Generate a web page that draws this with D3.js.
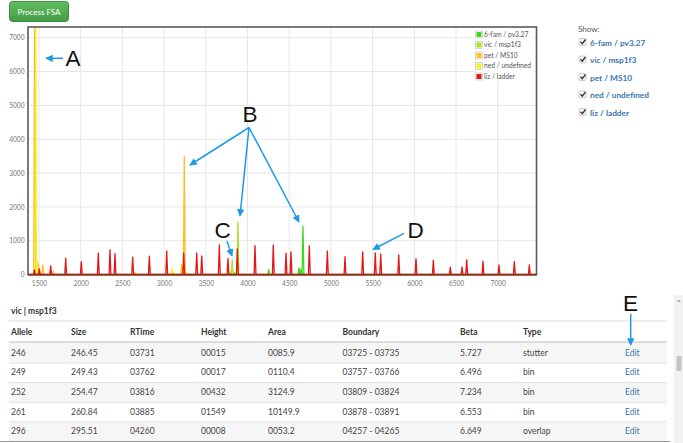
<!DOCTYPE html>
<html><head><meta charset="utf-8">
<script src="https://cdn.jsdelivr.net/npm/d3@7"></script>
<style>
html,body{margin:0;padding:0;background:#fff;}
svg{display:block;}
</style></head>
<body>
<svg id="c" width="683" height="443"></svg>
<script>
// ---------------- DATA ----------------
const dyeNames = ["6-fam / pv3.27", "vic / msp1f3", "pet / MS10", "ned / undefined", "liz / ladder"];
// peaks: [retention time, height]
const famPeaks = [[4255,150],[4617,197],[4640,150],[4665,1430]];
const vicPeaks = [[3731,15],[3762,17],[3798,90],[3816,432],[3842,70],[3885,1549],[4260,8]];
const petPeaks = [[1448,7600],[1490,330],[1545,280],[1670,100],[2650,60],[3211,300],[3242,3490]];
const nedPeaks = [[1462,7600],[1478,420],[3091,200],[3111,100],[3262,90]];
const lizPeaks = [[1444,140],[1504,170],[1640,256],[1820,483],[2007,385],[2211,631],[2351,730],[2411,621],
  [2623,513],[2823,542],[3031,700],[3235,641],[3391,641],[3451,556],[3662,877],[3766,478],[3878,759],
  [4090,858],[4309,878],[4462,637],[4521,670],[4741,848],[4957,700],[5169,528],[5381,670],[5532,641],
  [5597,611],[5813,582],[6020,473],[6228,424],[6432,222],[6572,224],[6628,434],[6823,395],[7015,290],
  [7199,380],[7379,290]];
const xTicks = [1500,2000,2500,3000,3500,4000,4500,5000,5500,6000,6500,7000];
const yTicks = [0,1000,2000,3000,4000,5000,6000,7000];

const tableTitle = "vic | msp1f3";
const columns = ["Allele","Size","RTime","Height","Area","Boundary","Beta","Type",""];
const allele = ["246","249","252","261","296"];
const size = ["246.45","249.43","254.47","260.84","295.51"];
const rtime = ["03731","03762","03816","03885","04260"];
const height = ["00015","00017","00432","01549","00008"];
const area = ["0085.9","0110.4","3124.9","10149.9","0053.2"];
const boundary = ["03725 - 03735","03757 - 03766","03809 - 03824","03878 - 03891","04257 - 04265"];
const beta = ["5.727","6.496","7.234","6.553","6.649"];
const ptype = ["stutter","bin","bin","bin","overlap"];

// ---------------- STYLE ----------------
const dyeColors = ["#3fd81c", "#a8e324", "#ffbd1f", "#f0f02a", "#e01818"];
const seriesPeaks = [famPeaks, vicPeaks, petPeaks, nedPeaks, lizPeaks];
const svg = d3.select("#c");
const font = "Lato, 'Open Sans', sans-serif";
const P = {l:28, t:27, r:536.5, b:274.6};
const xDomain = [1368, 7465], yDomain = [0, 7316];

const x = d3.scaleLinear().domain(xDomain).range([P.l, P.r]);
const y = d3.scaleLinear().domain(yDomain).range([P.b, P.t]);

// Button
const btnG = svg.append("g");
const grad = svg.append("defs").append("linearGradient").attr("id","bg").attr("x1",0).attr("y1",0).attr("x2",0).attr("y2",1);
grad.append("stop").attr("offset","0").attr("stop-color","#62bd62");
grad.append("stop").attr("offset","1").attr("stop-color","#449d44");
btnG.append("rect").attr("x",9.5).attr("y",1.5).attr("width",59).attr("height",20).attr("rx",3)
  .attr("fill","url(#bg)").attr("stroke","#3e8f3e");
btnG.append("text").attr("x",39).attr("y",14.8).attr("text-anchor","middle").attr("fill","#fff")
  .attr("font-family",font).attr("font-size",8).text("Process FSA");

// grid
const grid = svg.append("g");
grid.selectAll("line.v").data(xTicks).join("line").attr("class","v")
  .attr("x1",d=>x(d)).attr("x2",d=>x(d)).attr("y1",P.t).attr("y2",P.b)
  .attr("stroke","#e6e6e6").attr("stroke-width",1);
grid.selectAll("line.h").data(yTicks).join("line").attr("class","h")
  .attr("x1",P.l).attr("x2",P.r).attr("y1",d=>y(d)).attr("y2",d=>y(d))
  .attr("stroke","#e6e6e6").attr("stroke-width",1);

// tick labels via axes
const xAxis = d3.axisBottom(x).tickValues(xTicks).tickSize(0).tickPadding(5).tickFormat(d3.format("d"));
const yAxis = d3.axisLeft(y).tickValues(yTicks).tickSize(0).tickPadding(3).tickFormat(d3.format("d"));
const gx = svg.append("g").attr("transform",`translate(0,${P.b})`).call(xAxis);
const gy = svg.append("g").attr("transform",`translate(${P.l-0.5},0)`).call(yAxis);
[gx,gy].forEach(g=>{
  g.select(".domain").remove();
  g.selectAll("text").attr("fill","#777").attr("font-family",font).attr("font-size",6.6);
});
gx.selectAll("text").attr("dy","0.9em");

// clip
svg.select("defs").append("clipPath").attr("id","pc").append("rect")
  .attr("x",P.l).attr("y",P.t).attr("width",P.r-P.l).attr("height",P.b-P.t+1);

// series
const halfW = 11;
const line = d3.line().x(d=>x(d[0])).y(d=>y(d[1]));
const seriesG = svg.append("g").attr("clip-path","url(#pc)");
seriesPeaks.forEach((pk,i)=>{
  const pts = [[xDomain[0],0]];
  pk.slice().sort((a,b)=>a[0]-b[0]).forEach(p=>{
    pts.push([p[0]-halfW,0],[p[0],p[1]],[p[0]+halfW,0]);
  });
  pts.push([xDomain[1],0]);
  seriesG.append("path").attr("d",line(pts)).attr("fill","none")
    .attr("stroke",dyeColors[i]).attr("stroke-width",1.3).attr("stroke-linejoin","round")
    .attr("stroke-opacity", i===3?0.85:1);
});

// frame
svg.append("rect").attr("x",P.l).attr("y",P.t).attr("width",P.r-P.l).attr("height",P.b-P.t)
  .attr("fill","none").attr("stroke","#5a5a5a").attr("stroke-width",1.6);
svg.append("line").attr("x1",P.l).attr("x2",P.r).attr("y1",P.b).attr("y2",P.b)
  .attr("stroke","#9a2a1a").attr("stroke-width",1.6);

// legend
const lg = svg.append("g");
lg.append("rect").attr("x",474).attr("y",29).attr("width",60).attr("height",52)
  .attr("fill","#fff").attr("fill-opacity",0.85);
const ly = d3.scalePoint().domain(dyeNames).range([34.5,76.5]);
dyeNames.forEach((n,i)=>{
  lg.append("rect").attr("x",475.5).attr("y",ly(n)-3.5).attr("width",7).attr("height",7)
    .attr("fill","#fff").attr("stroke","#ccc").attr("stroke-width",0.8);
  lg.append("rect").attr("x",476.5).attr("y",ly(n)-2.5).attr("width",5).attr("height",5).attr("fill",dyeColors[i]);
  lg.append("text").attr("x",484).attr("y",ly(n)+2.3).attr("font-family",font).attr("font-size",6.7)
    .attr("fill","#555").text(n);
});

// Show panel
svg.append("text").attr("x",578).attr("y",31.5).attr("font-family",font).attr("font-size",8)
  .attr("fill","#555").text("Show:");
const sy = d3.scalePoint().domain(dyeNames).range([43.5,113.5]);
dyeNames.forEach(n=>{
  const g = svg.append("g");
  g.append("rect").attr("x",579).attr("y",sy(n)-5).attr("width",7).attr("height",7).attr("rx",1)
    .attr("fill","#f4f4f4").attr("stroke","#bbb").attr("stroke-width",0.7);
  g.append("path").attr("d",`M580.5,${sy(n)-1.8} l1.8,2 l3.2,-4.2`).attr("fill","none")
    .attr("stroke","#333").attr("stroke-width",1.3);
  g.append("text").attr("x",590).attr("y",sy(n)+2).attr("font-family",font).attr("font-size",8.3)
    .attr("font-weight","bold").attr("fill","#3a76ad").text(n);
});

// table
const tg = svg.append("g").attr("font-family",font).attr("font-size",8.5);
tg.append("text").attr("x",11).attr("y",314).attr("font-weight","bold").attr("fill","#333").text(tableTitle);
const colX = d3.scaleOrdinal().domain(columns).range([11,71,130,201,268,342.5,460,523,625]);
const rowY = d3.scaleBand().domain(allele).range([343,441]);
// stripes
allele.forEach((a,i)=>{
  if(i%2===0) tg.append("rect").attr("x",9).attr("y",rowY(a)).attr("width",658).attr("height",rowY.bandwidth())
    .attr("fill","#f6f6f6");
});
tg.append("line").attr("x1",9).attr("x2",667).attr("y1",321).attr("y2",321).attr("stroke","#ddd").attr("stroke-width",1.2);
tg.append("line").attr("x1",9).attr("x2",667).attr("y1",342).attr("y2",342).attr("stroke","#ddd").attr("stroke-width",2);
allele.slice(1).forEach(a=>{
  tg.append("line").attr("x1",9).attr("x2",667).attr("y1",rowY(a)+0.5).attr("y2",rowY(a)+0.5).attr("stroke","#e2e2e2");
});
columns.forEach(c=>{
  tg.append("text").attr("x",colX(c)).attr("y",334.5).attr("font-weight","bold").attr("fill","#333").text(c);
});
const cols = [allele,size,rtime,height,area,boundary,beta,ptype];
allele.forEach((a,i)=>{
  cols.forEach((arr,j)=>{
    tg.append("text").attr("x",colX(columns[j])).attr("y",rowY(a)+rowY.bandwidth()/2+3)
      .attr("fill","#444").text(arr[i]);
  });
  tg.append("text").attr("x",colX("")).attr("y",rowY(a)+rowY.bandwidth()/2+3).attr("fill","#3a76ad").text("Edit");
});
svg.append("line").attr("x1",0).attr("x2",670).attr("y1",441.5).attr("y2",441.5).attr("stroke","#999").attr("stroke-width",1.2);

// scrollbar
svg.append("rect").attr("x",674).attr("y",295).attr("width",9).attr("height",148).attr("fill","#f2f2f2");
svg.append("rect").attr("x",676.5).attr("y",356).attr("width",5).attr("height",15).attr("rx",1).attr("fill","#c4c4c4");
svg.append("path").attr("d","M677,302 l2,-2.5 l2,2.5 z").attr("fill","#aaa");

// annotations
const blue = "#1c9ae6";
const defs = svg.select("defs");
defs.append("marker").attr("id","ah").attr("viewBox","0 0 10 10").attr("refX",9).attr("refY",5)
  .attr("markerWidth",5).attr("markerHeight",5).attr("orient","auto")
  .append("path").attr("d","M0,0 L10,5 L0,10 z").attr("fill",blue);
const ann = svg.append("g");
const arrows = [[63,58.3,46,58.3],[249,127.5,190,165],[249,127.5,240,216],[249,127.5,299,222],
  [227,241,232,256],[404,233.3,373,249.5],[630.7,314,630.7,345]];
arrows.forEach(a=>{
  ann.append("line").attr("x1",a[0]).attr("y1",a[1]).attr("x2",a[2]).attr("y2",a[3])
    .attr("stroke",blue).attr("stroke-width",1.5).attr("marker-end","url(#ah)");
});
const letters = [["A",73,65.5],["B",250,122],["C",222.5,237.5],["D",415.5,237.5],["E",630.5,310.5]];
letters.forEach(l=>{
  ann.append("text").attr("x",l[1]).attr("y",l[2]).attr("text-anchor","middle")
    .attr("font-family","'Liberation Sans', Arial, sans-serif").attr("font-size",22.5).attr("fill","#111").text(l[0]);
});
</script>
</body></html>
